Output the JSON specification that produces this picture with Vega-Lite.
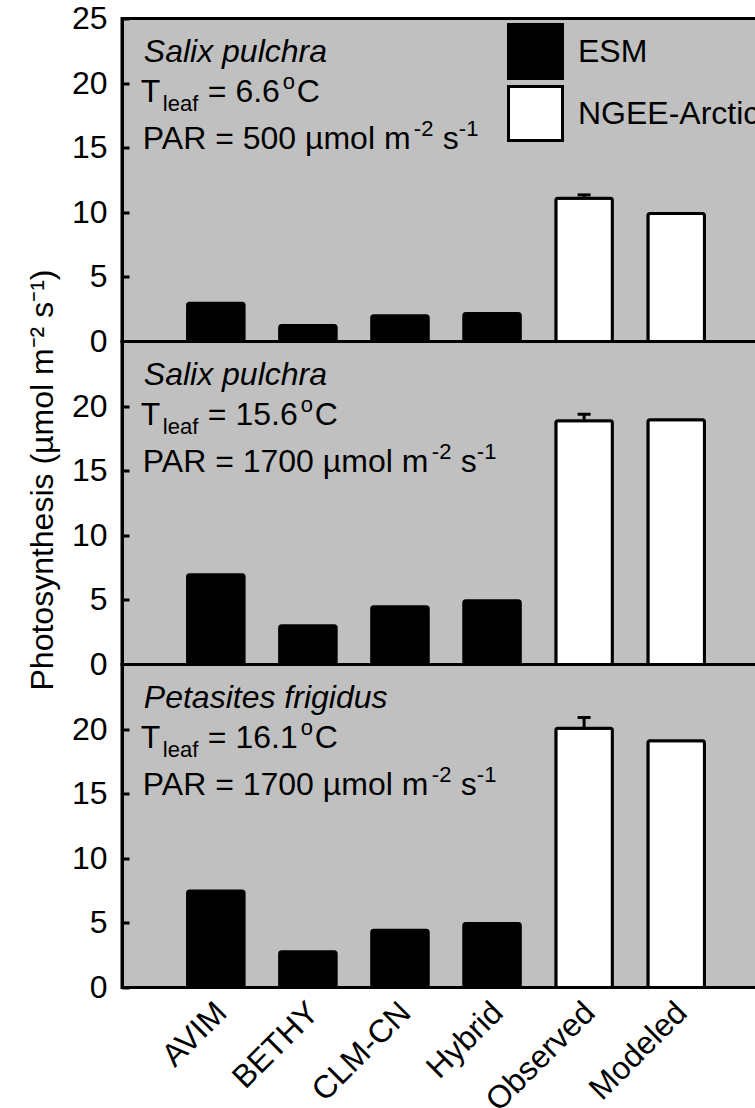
{
 "$schema": "https://vega.github.io/schema/vega-lite/v6.json",
 "autosize": {"type": "pad"},
 "padding": {"left": 24, "top": 0.5, "right": 10, "bottom": 10},
 "background": "white",
 "spacing": 0,
 "bounds": "flush",
 "config": {
  "view": {"fill": "#c0c0c0", "stroke": "black", "strokeWidth": 3},
  "font": "Liberation Sans",
  "axis": {"labelFont": "Liberation Sans", "titleFont": "Liberation Sans", "labelColor": "black", "titleColor": "black", "grid": false},
  "text": {"font": "Liberation Sans", "color": "black"}
 },
 "resolve": {"scale": {"fill": "independent"}, "legend": {"fill": "independent"}},
 "datasets": {
  "bars": [
   {"panel": 1, "model": "AVIM", "group": "ESM", "value": 2.97},
   {"panel": 1, "model": "BETHY", "group": "ESM", "value": 1.23},
   {"panel": 1, "model": "CLM-CN", "group": "ESM", "value": 2.0},
   {"panel": 1, "model": "Hybrid", "group": "ESM", "value": 2.16},
   {"panel": 1, "model": "Observed", "group": "NGEE-Arctic", "value": 11.09, "upper": 11.35},
   {"panel": 1, "model": "Modeled", "group": "NGEE-Arctic", "value": 9.9},
   {"panel": 2, "model": "AVIM", "group": "ESM", "value": 6.95},
   {"panel": 2, "model": "BETHY", "group": "ESM", "value": 3.0},
   {"panel": 2, "model": "CLM-CN", "group": "ESM", "value": 4.47},
   {"panel": 2, "model": "Hybrid", "group": "ESM", "value": 4.94},
   {"panel": 2, "model": "Observed", "group": "NGEE-Arctic", "value": 18.86, "upper": 19.37},
   {"panel": 2, "model": "Modeled", "group": "NGEE-Arctic", "value": 18.94},
   {"panel": 3, "model": "AVIM", "group": "ESM", "value": 7.46},
   {"panel": 3, "model": "BETHY", "group": "ESM", "value": 2.77},
   {"panel": 3, "model": "CLM-CN", "group": "ESM", "value": 4.44},
   {"panel": 3, "model": "Hybrid", "group": "ESM", "value": 4.96},
   {"panel": 3, "model": "Observed", "group": "NGEE-Arctic", "value": 20.07, "upper": 20.9},
   {"panel": 3, "model": "Modeled", "group": "NGEE-Arctic", "value": 19.09}
  ]
 },
 "vconcat": [
  {
   "width": 648, "height": 323,
   "layer": [
    {"data": {"name": "bars"}, "transform": [{"filter": "datum.panel == 1"}],
     "mark": {"type": "bar", "stroke": "black", "strokeWidth": 3, "cornerRadius": 2},
     "encoding": {
      "x": {"field": "model", "type": "nominal", "sort": null, "scale": {"domain": ["AVIM", "BETHY", "CLM-CN", "Hybrid", "Observed", "Modeled"], "paddingInner": 0.386, "paddingOuter": 0.712}, "axis": null},
      "y": {"field": "value", "type": "quantitative", "scale": {"domain": [0, 25], "nice": false}, "axis": {"title": null, "values": [0, 5, 10, 15, 20, 25], "labelFontSize": 32, "labelPadding": 22, "tickSize": -7, "tickWidth": 3, "tickColor": "black", "domainColor": "black", "domainWidth": 3, "labelFlush": false}},
      "fill": {"field": "group", "type": "nominal", "scale": {"domain": ["ESM", "NGEE-Arctic"], "range": ["#000000", "#ffffff"]}, "legend": {"title": null, "orient": "none", "legendX": 385, "legendY": 4.5, "symbolType": "square", "symbolSize": 2916, "symbolStrokeColor": "black", "symbolStrokeWidth": 3, "symbolOpacity": 1, "labelFontSize": 32, "labelFont": "Liberation Sans", "labelColor": "black", "labelOffset": 14, "labelLimit": 500, "rowPadding": -9}}
     }},
    {"data": {"name": "bars"}, "transform": [{"filter": "datum.panel == 1 && isValid(datum.upper)"}],
     "mark": {"type": "rule", "strokeWidth": 3, "color": "black"},
     "encoding": {"x": {"field": "model", "type": "nominal", "axis": null}, "y": {"field": "value", "type": "quantitative"}, "y2": {"field": "upper"}}},
    {"data": {"name": "bars"}, "transform": [{"filter": "datum.panel == 1 && isValid(datum.upper)"}],
     "mark": {"type": "tick", "thickness": 3, "size": 13, "color": "black", "opacity": 1},
     "encoding": {"x": {"field": "model", "type": "nominal", "axis": null}, "y": {"field": "upper", "type": "quantitative"}}},
    {"data": {"values": [{"t": "Salix pulchra"}]}, "mark": {"type": "text", "fontSize": 32, "fontStyle": "italic", "align": "left", "baseline": "alphabetic", "dx": -72}, "encoding": {"x": {"datum": "AVIM", "type": "nominal", "axis": null}, "y": {"datum": 21.6, "type": "quantitative"}, "text": {"field": "t"}}},
    {"data": {"values": [{"t": "T"}]}, "mark": {"type": "text", "fontSize": 32, "align": "left", "baseline": "alphabetic", "dx": -75}, "encoding": {"x": {"datum": "AVIM", "type": "nominal", "axis": null}, "y": {"datum": 18.5, "type": "quantitative"}, "text": {"field": "t"}}},
    {"data": {"values": [{"t": "leaf"}]}, "mark": {"type": "text", "fontSize": 22, "align": "left", "baseline": "alphabetic", "dx": -53, "dy": 9}, "encoding": {"x": {"datum": "AVIM", "type": "nominal", "axis": null}, "y": {"datum": 18.5, "type": "quantitative"}, "text": {"field": "t"}}},
    {"data": {"values": [{"t": "= 6.6"}]}, "mark": {"type": "text", "fontSize": 32, "align": "left", "baseline": "alphabetic", "dx": -8}, "encoding": {"x": {"datum": "AVIM", "type": "nominal", "axis": null}, "y": {"datum": 18.5, "type": "quantitative"}, "text": {"field": "t"}}},
    {"data": {"values": [{"t": "o"}]}, "mark": {"type": "text", "fontSize": 22, "align": "left", "baseline": "alphabetic", "dx": 67, "dy": -13}, "encoding": {"x": {"datum": "AVIM", "type": "nominal", "axis": null}, "y": {"datum": 18.5, "type": "quantitative"}, "text": {"field": "t"}}},
    {"data": {"values": [{"t": "C"}]}, "mark": {"type": "text", "fontSize": 32, "align": "left", "baseline": "alphabetic", "dx": 81}, "encoding": {"x": {"datum": "AVIM", "type": "nominal", "axis": null}, "y": {"datum": 18.5, "type": "quantitative"}, "text": {"field": "t"}}},
    {"data": {"values": [{"t": "PAR = 500 µmol m"}]}, "mark": {"type": "text", "fontSize": 32, "align": "left", "baseline": "alphabetic", "dx": -73}, "encoding": {"x": {"datum": "AVIM", "type": "nominal", "axis": null}, "y": {"datum": 14.9, "type": "quantitative"}, "text": {"field": "t"}}},
    {"data": {"values": [{"t": "-2"}]}, "mark": {"type": "text", "fontSize": 22, "align": "left", "baseline": "alphabetic", "dx": 198, "dy": -13}, "encoding": {"x": {"datum": "AVIM", "type": "nominal", "axis": null}, "y": {"datum": 14.9, "type": "quantitative"}, "text": {"field": "t"}}},
    {"data": {"values": [{"t": "s"}]}, "mark": {"type": "text", "fontSize": 32, "align": "left", "baseline": "alphabetic", "dx": 227}, "encoding": {"x": {"datum": "AVIM", "type": "nominal", "axis": null}, "y": {"datum": 14.9, "type": "quantitative"}, "text": {"field": "t"}}},
    {"data": {"values": [{"t": "-1"}]}, "mark": {"type": "text", "fontSize": 22, "align": "left", "baseline": "alphabetic", "dx": 243, "dy": -13}, "encoding": {"x": {"datum": "AVIM", "type": "nominal", "axis": null}, "y": {"datum": 14.9, "type": "quantitative"}, "text": {"field": "t"}}}
   ]
  },
  {
   "width": 648, "height": 323,
   "layer": [
    {"data": {"name": "bars"}, "transform": [{"filter": "datum.panel == 2"}],
     "mark": {"type": "bar", "stroke": "black", "strokeWidth": 3, "cornerRadius": 2},
     "encoding": {
      "x": {"field": "model", "type": "nominal", "sort": null, "scale": {"domain": ["AVIM", "BETHY", "CLM-CN", "Hybrid", "Observed", "Modeled"], "paddingInner": 0.386, "paddingOuter": 0.712}, "axis": null},
      "y": {"field": "value", "type": "quantitative", "scale": {"domain": [0, 25], "nice": false}, "axis": {"title": "Photosynthesis (µmol m⁻² s⁻¹)", "titleFontSize": 32, "titleFontWeight": "normal", "titlePadding": 12, "titleY": 138, "values": [0, 5, 10, 15, 20], "labelFontSize": 32, "labelPadding": 22, "tickSize": -7, "tickWidth": 3, "tickColor": "black", "domainColor": "black", "domainWidth": 3, "labelFlush": false}},
      "fill": {"field": "group", "type": "nominal", "scale": {"domain": ["ESM", "NGEE-Arctic"], "range": ["#000000", "#ffffff"]}, "legend": null}
     }},
    {"data": {"name": "bars"}, "transform": [{"filter": "datum.panel == 2 && isValid(datum.upper)"}],
     "mark": {"type": "rule", "strokeWidth": 3, "color": "black"},
     "encoding": {"x": {"field": "model", "type": "nominal", "axis": null}, "y": {"field": "value", "type": "quantitative"}, "y2": {"field": "upper"}}},
    {"data": {"name": "bars"}, "transform": [{"filter": "datum.panel == 2 && isValid(datum.upper)"}],
     "mark": {"type": "tick", "thickness": 3, "size": 13, "color": "black", "opacity": 1},
     "encoding": {"x": {"field": "model", "type": "nominal", "axis": null}, "y": {"field": "upper", "type": "quantitative"}}},
    {"data": {"values": [{"t": "Salix pulchra"}]}, "mark": {"type": "text", "fontSize": 32, "fontStyle": "italic", "align": "left", "baseline": "alphabetic", "dx": -72}, "encoding": {"x": {"datum": "AVIM", "type": "nominal", "axis": null}, "y": {"datum": 21.6, "type": "quantitative"}, "text": {"field": "t"}}},
    {"data": {"values": [{"t": "T"}]}, "mark": {"type": "text", "fontSize": 32, "align": "left", "baseline": "alphabetic", "dx": -75}, "encoding": {"x": {"datum": "AVIM", "type": "nominal", "axis": null}, "y": {"datum": 18.5, "type": "quantitative"}, "text": {"field": "t"}}},
    {"data": {"values": [{"t": "leaf"}]}, "mark": {"type": "text", "fontSize": 22, "align": "left", "baseline": "alphabetic", "dx": -53, "dy": 9}, "encoding": {"x": {"datum": "AVIM", "type": "nominal", "axis": null}, "y": {"datum": 18.5, "type": "quantitative"}, "text": {"field": "t"}}},
    {"data": {"values": [{"t": "= 15.6"}]}, "mark": {"type": "text", "fontSize": 32, "align": "left", "baseline": "alphabetic", "dx": -8}, "encoding": {"x": {"datum": "AVIM", "type": "nominal", "axis": null}, "y": {"datum": 18.5, "type": "quantitative"}, "text": {"field": "t"}}},
    {"data": {"values": [{"t": "o"}]}, "mark": {"type": "text", "fontSize": 22, "align": "left", "baseline": "alphabetic", "dx": 85, "dy": -13}, "encoding": {"x": {"datum": "AVIM", "type": "nominal", "axis": null}, "y": {"datum": 18.5, "type": "quantitative"}, "text": {"field": "t"}}},
    {"data": {"values": [{"t": "C"}]}, "mark": {"type": "text", "fontSize": 32, "align": "left", "baseline": "alphabetic", "dx": 99}, "encoding": {"x": {"datum": "AVIM", "type": "nominal", "axis": null}, "y": {"datum": 18.5, "type": "quantitative"}, "text": {"field": "t"}}},
    {"data": {"values": [{"t": "PAR = 1700 µmol m"}]}, "mark": {"type": "text", "fontSize": 32, "align": "left", "baseline": "alphabetic", "dx": -73}, "encoding": {"x": {"datum": "AVIM", "type": "nominal", "axis": null}, "y": {"datum": 14.9, "type": "quantitative"}, "text": {"field": "t"}}},
    {"data": {"values": [{"t": "-2"}]}, "mark": {"type": "text", "fontSize": 22, "align": "left", "baseline": "alphabetic", "dx": 216, "dy": -13}, "encoding": {"x": {"datum": "AVIM", "type": "nominal", "axis": null}, "y": {"datum": 14.9, "type": "quantitative"}, "text": {"field": "t"}}},
    {"data": {"values": [{"t": "s"}]}, "mark": {"type": "text", "fontSize": 32, "align": "left", "baseline": "alphabetic", "dx": 245}, "encoding": {"x": {"datum": "AVIM", "type": "nominal", "axis": null}, "y": {"datum": 14.9, "type": "quantitative"}, "text": {"field": "t"}}},
    {"data": {"values": [{"t": "-1"}]}, "mark": {"type": "text", "fontSize": 22, "align": "left", "baseline": "alphabetic", "dx": 261, "dy": -13}, "encoding": {"x": {"datum": "AVIM", "type": "nominal", "axis": null}, "y": {"datum": 14.9, "type": "quantitative"}, "text": {"field": "t"}}}
   ]
  },
  {
   "width": 648, "height": 323,
   "layer": [
    {"data": {"name": "bars"}, "transform": [{"filter": "datum.panel == 3"}],
     "mark": {"type": "bar", "stroke": "black", "strokeWidth": 3, "cornerRadius": 2},
     "encoding": {
      "x": {"field": "model", "type": "nominal", "sort": null, "scale": {"domain": ["AVIM", "BETHY", "CLM-CN", "Hybrid", "Observed", "Modeled"], "paddingInner": 0.386, "paddingOuter": 0.712}, "axis": {"title": null, "labelAngle": -45, "labelFontSize": 32, "ticks": false, "domain": false, "labelPadding": 9, "labelOffset": -5}},
      "y": {"field": "value", "type": "quantitative", "scale": {"domain": [0, 25], "nice": false}, "axis": {"title": null, "values": [0, 5, 10, 15, 20], "labelFontSize": 32, "labelPadding": 22, "tickSize": -7, "tickWidth": 3, "tickColor": "black", "domainColor": "black", "domainWidth": 3, "labelFlush": false}},
      "fill": {"field": "group", "type": "nominal", "scale": {"domain": ["ESM", "NGEE-Arctic"], "range": ["#000000", "#ffffff"]}, "legend": null}
     }},
    {"data": {"name": "bars"}, "transform": [{"filter": "datum.panel == 3 && isValid(datum.upper)"}],
     "mark": {"type": "rule", "strokeWidth": 3, "color": "black"},
     "encoding": {"x": {"field": "model", "type": "nominal"}, "y": {"field": "value", "type": "quantitative"}, "y2": {"field": "upper"}}},
    {"data": {"name": "bars"}, "transform": [{"filter": "datum.panel == 3 && isValid(datum.upper)"}],
     "mark": {"type": "tick", "thickness": 3, "size": 13, "color": "black", "opacity": 1},
     "encoding": {"x": {"field": "model", "type": "nominal"}, "y": {"field": "upper", "type": "quantitative"}}},
    {"data": {"values": [{"t": "Petasites frigidus"}]}, "mark": {"type": "text", "fontSize": 32, "fontStyle": "italic", "align": "left", "baseline": "alphabetic", "dx": -72}, "encoding": {"x": {"datum": "AVIM", "type": "nominal"}, "y": {"datum": 21.6, "type": "quantitative"}, "text": {"field": "t"}}},
    {"data": {"values": [{"t": "T"}]}, "mark": {"type": "text", "fontSize": 32, "align": "left", "baseline": "alphabetic", "dx": -75}, "encoding": {"x": {"datum": "AVIM", "type": "nominal"}, "y": {"datum": 18.5, "type": "quantitative"}, "text": {"field": "t"}}},
    {"data": {"values": [{"t": "leaf"}]}, "mark": {"type": "text", "fontSize": 22, "align": "left", "baseline": "alphabetic", "dx": -53, "dy": 9}, "encoding": {"x": {"datum": "AVIM", "type": "nominal"}, "y": {"datum": 18.5, "type": "quantitative"}, "text": {"field": "t"}}},
    {"data": {"values": [{"t": "= 16.1"}]}, "mark": {"type": "text", "fontSize": 32, "align": "left", "baseline": "alphabetic", "dx": -8}, "encoding": {"x": {"datum": "AVIM", "type": "nominal"}, "y": {"datum": 18.5, "type": "quantitative"}, "text": {"field": "t"}}},
    {"data": {"values": [{"t": "o"}]}, "mark": {"type": "text", "fontSize": 22, "align": "left", "baseline": "alphabetic", "dx": 85, "dy": -13}, "encoding": {"x": {"datum": "AVIM", "type": "nominal"}, "y": {"datum": 18.5, "type": "quantitative"}, "text": {"field": "t"}}},
    {"data": {"values": [{"t": "C"}]}, "mark": {"type": "text", "fontSize": 32, "align": "left", "baseline": "alphabetic", "dx": 99}, "encoding": {"x": {"datum": "AVIM", "type": "nominal"}, "y": {"datum": 18.5, "type": "quantitative"}, "text": {"field": "t"}}},
    {"data": {"values": [{"t": "PAR = 1700 µmol m"}]}, "mark": {"type": "text", "fontSize": 32, "align": "left", "baseline": "alphabetic", "dx": -73}, "encoding": {"x": {"datum": "AVIM", "type": "nominal"}, "y": {"datum": 14.9, "type": "quantitative"}, "text": {"field": "t"}}},
    {"data": {"values": [{"t": "-2"}]}, "mark": {"type": "text", "fontSize": 22, "align": "left", "baseline": "alphabetic", "dx": 216, "dy": -13}, "encoding": {"x": {"datum": "AVIM", "type": "nominal"}, "y": {"datum": 14.9, "type": "quantitative"}, "text": {"field": "t"}}},
    {"data": {"values": [{"t": "s"}]}, "mark": {"type": "text", "fontSize": 32, "align": "left", "baseline": "alphabetic", "dx": 245}, "encoding": {"x": {"datum": "AVIM", "type": "nominal"}, "y": {"datum": 14.9, "type": "quantitative"}, "text": {"field": "t"}}},
    {"data": {"values": [{"t": "-1"}]}, "mark": {"type": "text", "fontSize": 22, "align": "left", "baseline": "alphabetic", "dx": 261, "dy": -13}, "encoding": {"x": {"datum": "AVIM", "type": "nominal"}, "y": {"datum": 14.9, "type": "quantitative"}, "text": {"field": "t"}}}
   ]
  }
 ]
}
